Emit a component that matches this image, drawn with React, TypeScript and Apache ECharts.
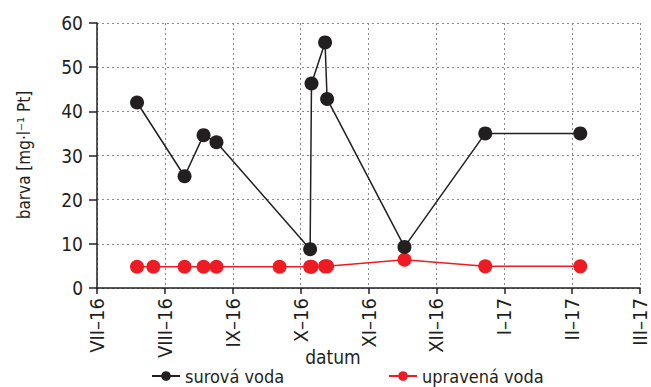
import React, { useEffect, useRef } from "react";
import * as echarts from "echarts";

const monthLabels = ["VII–16", "VIII–16", "IX–16", "X–16", "XI–16", "XII–16", "I–17", "II–17", "III–17"];
const yTicks = [0, 10, 20, 30, 40, 50, 60];

// x in months since VII-16
const rawX = [0.59, 1.29, 1.57, 1.76, 3.14, 3.16, 3.36, 3.39, 4.53, 5.72, 7.12];
const rawY = [42.0, 25.3, 34.6, 33.0, 8.8, 46.3, 55.6, 42.8, 9.3, 35.0, 35.0];

const treatedX = [0.59, 0.83, 1.29, 1.57, 1.76, 2.69, 3.14, 3.16, 3.36, 3.39, 4.53, 5.72, 7.12];
const treatedY = [4.8, 4.8, 4.8, 4.8, 4.8, 4.8, 4.8, 4.8, 4.9, 4.9, 6.4, 4.9, 4.9];

const FONT = "'DejaVu Sans Condensed', 'Liberation Sans', sans-serif";
const INK = "#231f20";
const RED = "#ed1c24";

export default function App() {
  const ref = useRef<HTMLDivElement>(null);
  useEffect(() => {
    if (!ref.current) return;
    const chart = echarts.init(ref.current, null, { renderer: "svg" });
    const gridStyle = { show: true, lineStyle: { color: "#8a8a8a", type: [2, 3], width: 1 } };
    const legendText = { fontSize: 18, lineHeight: 18, color: INK, fontFamily: FONT };
    chart.setOption({
      animation: false,
      textStyle: { fontFamily: FONT },
      grid: { left: 97, right: 11, top: 23, bottom: 99 },
      xAxis: {
        type: "value",
        min: 0,
        max: monthLabels.length - 1,
        interval: 1,
        axisLine: { show: true, onZero: false, lineStyle: { color: INK, width: 1.5 } },
        axisTick: { show: true, length: 6, lineStyle: { color: INK, width: 1.5 } },
        axisLabel: {
          rotate: 90,
          margin: 10,
          fontSize: 20,
          color: INK,
          fontFamily: FONT,
          formatter: (v: number) => monthLabels[Math.round(v)] ?? "",
        },
        splitLine: gridStyle,
      },
      yAxis: {
        type: "value",
        min: yTicks[0],
        max: yTicks[yTicks.length - 1],
        interval: 10,
        axisLine: { show: true, lineStyle: { color: INK, width: 1.5 } },
        axisTick: { show: true, length: 8, lineStyle: { color: INK, width: 1.5 } },
        axisLabel: { fontSize: 19, color: INK, margin: 14, fontFamily: FONT },
        splitLine: gridStyle,
      },
      legend: [
        {
          data: ["surová voda"],
          left: 151,
          top: 367,
          padding: 0,
          itemWidth: 28,
          itemHeight: 12,
          itemGap: 0,
          textStyle: legendText,
        },
        {
          data: ["upravená voda"],
          left: 388,
          top: 367,
          padding: 0,
          itemWidth: 28,
          itemHeight: 12,
          itemGap: 0,
          textStyle: legendText,
        },
      ],
      graphic: [
        {
          type: "text",
          x: 333,
          y: 357,
          style: {
            text: "datum",
            fontSize: 19,
            fill: INK,
            fontFamily: FONT,
            align: "center",
            verticalAlign: "middle",
          },
        },
        {
          type: "text",
          x: 24,
          y: 155,
          rotation: Math.PI / 2,
          style: {
            text: "barva [mg·l⁻¹ Pt]",
            fontSize: 17,
            fill: INK,
            fontFamily: FONT,
            align: "center",
            verticalAlign: "middle",
          },
        },
      ],
      series: [
        {
          name: "upravená voda",
          type: "line",
          data: treatedX.map((x, i) => [x, treatedY[i]]),
          symbol: "circle",
          symbolSize: 14,
          itemStyle: { color: RED },
          lineStyle: { color: RED, width: 1.5 },
          z: 2,
        },
        {
          name: "surová voda",
          type: "line",
          data: rawX.map((x, i) => [x, rawY[i]]),
          symbol: "circle",
          symbolSize: 14,
          itemStyle: { color: INK },
          lineStyle: { color: INK, width: 1.5 },
          z: 3,
        },
      ],
    });
    return () => chart.dispose();
  }, []);
  return <div ref={ref} style={{ width: 651, height: 387, position: "absolute", left: 0, top: 0 }} />;
}
